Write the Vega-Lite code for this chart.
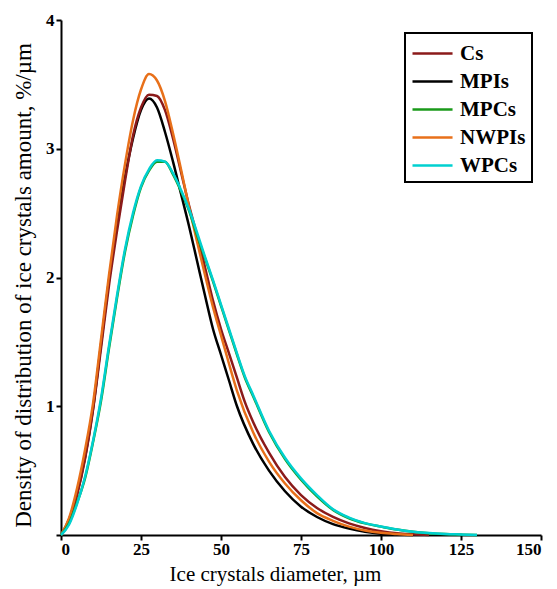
{
  "$schema": "https://vega.github.io/schema/vega-lite/v6.json",
  "width": 480,
  "height": 515,
  "autosize": {"type": "none"},
  "padding": {"left": 61, "top": 20, "right": 16, "bottom": 54},
  "background": "white",
  "config": {
    "view": {"stroke": null},
    "font": "Liberation Serif",
    "axis": {"grid": false, "domainColor": "black", "domainWidth": 2, "tickColor": "black", "tickWidth": 2, "tickSize": 5,
             "labelFont": "Liberation Serif", "labelFontWeight": "bold", "labelFontSize": 17, "labelColor": "black",
             "titleFont": "Liberation Serif", "titleFontWeight": "normal", "titleColor": "black"},
    "legend": {"strokeColor": "black", "strokeWidth": 2, "padding": 6}
  },
  "data": {"values": [
    {"s":"MPIs","x":0,"y":0},{"s":"MPIs","x":2.5,"y":0.12},{"s":"MPIs","x":5,"y":0.32},{"s":"MPIs","x":7.5,"y":0.6},{"s":"MPIs","x":10,"y":0.98},{"s":"MPIs","x":12.5,"y":1.48},{"s":"MPIs","x":15,"y":1.98},{"s":"MPIs","x":17.5,"y":2.4},{"s":"MPIs","x":20,"y":2.78},{"s":"MPIs","x":22.5,"y":3.08},{"s":"MPIs","x":25,"y":3.3},{"s":"MPIs","x":27.5,"y":3.39},{"s":"MPIs","x":30,"y":3.32},{"s":"MPIs","x":32.5,"y":3.13},{"s":"MPIs","x":35,"y":2.9},{"s":"MPIs","x":37.5,"y":2.65},{"s":"MPIs","x":40,"y":2.4},{"s":"MPIs","x":42.5,"y":2.13},{"s":"MPIs","x":45,"y":1.86},{"s":"MPIs","x":47.5,"y":1.6},{"s":"MPIs","x":50,"y":1.4},{"s":"MPIs","x":52.5,"y":1.2},{"s":"MPIs","x":55,"y":1.0},{"s":"MPIs","x":60,"y":0.71},{"s":"MPIs","x":65,"y":0.5},{"s":"MPIs","x":70,"y":0.34},{"s":"MPIs","x":75,"y":0.22},{"s":"MPIs","x":80,"y":0.14},{"s":"MPIs","x":85,"y":0.085},{"s":"MPIs","x":90,"y":0.05},{"s":"MPIs","x":95,"y":0.025},{"s":"MPIs","x":100,"y":0.01},{"s":"MPIs","x":105,"y":0.003},{"s":"MPIs","x":110,"y":0},
    {"s":"Cs","x":0,"y":0},{"s":"Cs","x":2.5,"y":0.11},{"s":"Cs","x":5,"y":0.31},{"s":"Cs","x":7.5,"y":0.59},{"s":"Cs","x":10,"y":0.97},{"s":"Cs","x":12.5,"y":1.45},{"s":"Cs","x":15,"y":1.94},{"s":"Cs","x":17.5,"y":2.36},{"s":"Cs","x":20,"y":2.75},{"s":"Cs","x":22.5,"y":3.1},{"s":"Cs","x":25,"y":3.32},{"s":"Cs","x":27.5,"y":3.42},{"s":"Cs","x":30,"y":3.41},{"s":"Cs","x":32.5,"y":3.3},{"s":"Cs","x":35,"y":3.08},{"s":"Cs","x":37.5,"y":2.82},{"s":"Cs","x":40,"y":2.56},{"s":"Cs","x":42.5,"y":2.33},{"s":"Cs","x":45,"y":2.08},{"s":"Cs","x":47.5,"y":1.82},{"s":"Cs","x":50,"y":1.6},{"s":"Cs","x":52.5,"y":1.41},{"s":"Cs","x":55,"y":1.22},{"s":"Cs","x":57.5,"y":1.03},{"s":"Cs","x":60,"y":0.88},{"s":"Cs","x":65,"y":0.64},{"s":"Cs","x":70,"y":0.45},{"s":"Cs","x":75,"y":0.31},{"s":"Cs","x":80,"y":0.21},{"s":"Cs","x":85,"y":0.14},{"s":"Cs","x":90,"y":0.09},{"s":"Cs","x":95,"y":0.055},{"s":"Cs","x":100,"y":0.03},{"s":"Cs","x":105,"y":0.013},{"s":"Cs","x":110,"y":0.005},{"s":"Cs","x":115,"y":0},
    {"s":"NWPIs","x":0,"y":0},{"s":"NWPIs","x":2.5,"y":0.13},{"s":"NWPIs","x":5,"y":0.36},{"s":"NWPIs","x":7.5,"y":0.66},{"s":"NWPIs","x":10,"y":1.02},{"s":"NWPIs","x":12.5,"y":1.52},{"s":"NWPIs","x":15,"y":2.02},{"s":"NWPIs","x":17.5,"y":2.48},{"s":"NWPIs","x":20,"y":2.88},{"s":"NWPIs","x":22.5,"y":3.22},{"s":"NWPIs","x":25,"y":3.46},{"s":"NWPIs","x":27.5,"y":3.58},{"s":"NWPIs","x":30,"y":3.53},{"s":"NWPIs","x":32.5,"y":3.37},{"s":"NWPIs","x":35,"y":3.12},{"s":"NWPIs","x":37.5,"y":2.84},{"s":"NWPIs","x":40,"y":2.55},{"s":"NWPIs","x":42.5,"y":2.28},{"s":"NWPIs","x":45,"y":2.02},{"s":"NWPIs","x":47.5,"y":1.77},{"s":"NWPIs","x":50,"y":1.55},{"s":"NWPIs","x":52.5,"y":1.33},{"s":"NWPIs","x":55,"y":1.12},{"s":"NWPIs","x":60,"y":0.8},{"s":"NWPIs","x":65,"y":0.57},{"s":"NWPIs","x":70,"y":0.4},{"s":"NWPIs","x":75,"y":0.27},{"s":"NWPIs","x":80,"y":0.17},{"s":"NWPIs","x":85,"y":0.11},{"s":"NWPIs","x":90,"y":0.065},{"s":"NWPIs","x":95,"y":0.035},{"s":"NWPIs","x":100,"y":0.017},{"s":"NWPIs","x":105,"y":0.007},{"s":"NWPIs","x":110,"y":0},
    {"s":"MPCs","x":0,"y":0},{"s":"MPCs","x":2.5,"y":0.09},{"s":"MPCs","x":5,"y":0.25},{"s":"MPCs","x":7.5,"y":0.44},{"s":"MPCs","x":10,"y":0.72},{"s":"MPCs","x":12.5,"y":1.04},{"s":"MPCs","x":15,"y":1.45},{"s":"MPCs","x":17.5,"y":1.84},{"s":"MPCs","x":20,"y":2.2},{"s":"MPCs","x":22.5,"y":2.48},{"s":"MPCs","x":25,"y":2.7},{"s":"MPCs","x":27.5,"y":2.83},{"s":"MPCs","x":30,"y":2.9},{"s":"MPCs","x":32.5,"y":2.9},{"s":"MPCs","x":35,"y":2.8},{"s":"MPCs","x":37.5,"y":2.67},{"s":"MPCs","x":40,"y":2.52},{"s":"MPCs","x":42.5,"y":2.33},{"s":"MPCs","x":45,"y":2.15},{"s":"MPCs","x":47.5,"y":1.97},{"s":"MPCs","x":50,"y":1.78},{"s":"MPCs","x":52.5,"y":1.59},{"s":"MPCs","x":55,"y":1.4},{"s":"MPCs","x":57.5,"y":1.22},{"s":"MPCs","x":60,"y":1.08},{"s":"MPCs","x":65,"y":0.8},{"s":"MPCs","x":70,"y":0.59},{"s":"MPCs","x":75,"y":0.43},{"s":"MPCs","x":80,"y":0.3},{"s":"MPCs","x":85,"y":0.195},{"s":"MPCs","x":90,"y":0.13},{"s":"MPCs","x":95,"y":0.09},{"s":"MPCs","x":100,"y":0.065},{"s":"MPCs","x":105,"y":0.042},{"s":"MPCs","x":110,"y":0.025},{"s":"MPCs","x":115,"y":0.014},{"s":"MPCs","x":120,"y":0.007},{"s":"MPCs","x":125,"y":0.003},{"s":"MPCs","x":130,"y":0},
    {"s":"WPCs","x":0,"y":0},{"s":"WPCs","x":2.5,"y":0.08},{"s":"WPCs","x":5,"y":0.24},{"s":"WPCs","x":7.5,"y":0.45},{"s":"WPCs","x":10,"y":0.73},{"s":"WPCs","x":12.5,"y":1.06},{"s":"WPCs","x":15,"y":1.47},{"s":"WPCs","x":17.5,"y":1.86},{"s":"WPCs","x":20,"y":2.22},{"s":"WPCs","x":22.5,"y":2.5},{"s":"WPCs","x":25,"y":2.71},{"s":"WPCs","x":27.5,"y":2.84},{"s":"WPCs","x":30,"y":2.91},{"s":"WPCs","x":32.5,"y":2.9},{"s":"WPCs","x":35,"y":2.81},{"s":"WPCs","x":37.5,"y":2.68},{"s":"WPCs","x":40,"y":2.53},{"s":"WPCs","x":42.5,"y":2.35},{"s":"WPCs","x":45,"y":2.16},{"s":"WPCs","x":47.5,"y":1.98},{"s":"WPCs","x":50,"y":1.79},{"s":"WPCs","x":52.5,"y":1.6},{"s":"WPCs","x":55,"y":1.41},{"s":"WPCs","x":57.5,"y":1.23},{"s":"WPCs","x":60,"y":1.09},{"s":"WPCs","x":65,"y":0.81},{"s":"WPCs","x":70,"y":0.6},{"s":"WPCs","x":75,"y":0.44},{"s":"WPCs","x":80,"y":0.31},{"s":"WPCs","x":85,"y":0.2},{"s":"WPCs","x":90,"y":0.135},{"s":"WPCs","x":95,"y":0.092},{"s":"WPCs","x":100,"y":0.066},{"s":"WPCs","x":105,"y":0.043},{"s":"WPCs","x":110,"y":0.026},{"s":"WPCs","x":115,"y":0.015},{"s":"WPCs","x":120,"y":0.008},{"s":"WPCs","x":125,"y":0.004},{"s":"WPCs","x":130,"y":0}
  ]},
  "mark": {"type": "line", "interpolate": "monotone"},
  "encoding": {
    "x": {"field": "x", "type": "quantitative",
          "scale": {"domain": [0, 150], "nice": false},
          "axis": {"values": [0, 25, 50, 75, 100, 125, 150], "title": "Ice crystals diameter, µm", "titleFontSize": 21, "labelPadding": 1, "titlePadding": 6, "titleX": 214}},
    "y": {"field": "y", "type": "quantitative",
          "scale": {"domain": [0, 4], "nice": false},
          "axis": {"values": [0, 1, 2, 3, 4], "labelExpr": "datum.value == 0 ? '' : datum.label", "title": "Density of distribution of ice crystals amount, %/µm", "titleFontSize": 23, "titleY": 265, "labelPadding": 2, "titlePadding": 10}},
    "strokeWidth": {"field": "s", "type": "nominal",
                    "scale": {"domain": ["Cs", "MPIs", "MPCs", "NWPIs", "WPCs"], "range": [2.5, 2.5, 4, 2.5, 2.2]},
                    "legend": null},
    "color": {"field": "s", "type": "nominal",
              "scale": {"domain": ["Cs", "MPIs", "MPCs", "NWPIs", "WPCs"], "range": ["#8b1a1a", "#000000", "#1a9a1a", "#e8701a", "#00d0d0"]},
              "legend": {"title": null, "orient": "none", "legendX": 344, "legendY": 13,
                         "symbolType": "M-1,0H2.08", "symbolSize": 676, "symbolStrokeWidth": 3,
                         "labelOffset": 20,
                         "labelFont": "Liberation Serif", "labelFontSize": 21, "labelFontWeight": "bold", "labelColor": "black",
                         "rowPadding": 3}}
  }
}
